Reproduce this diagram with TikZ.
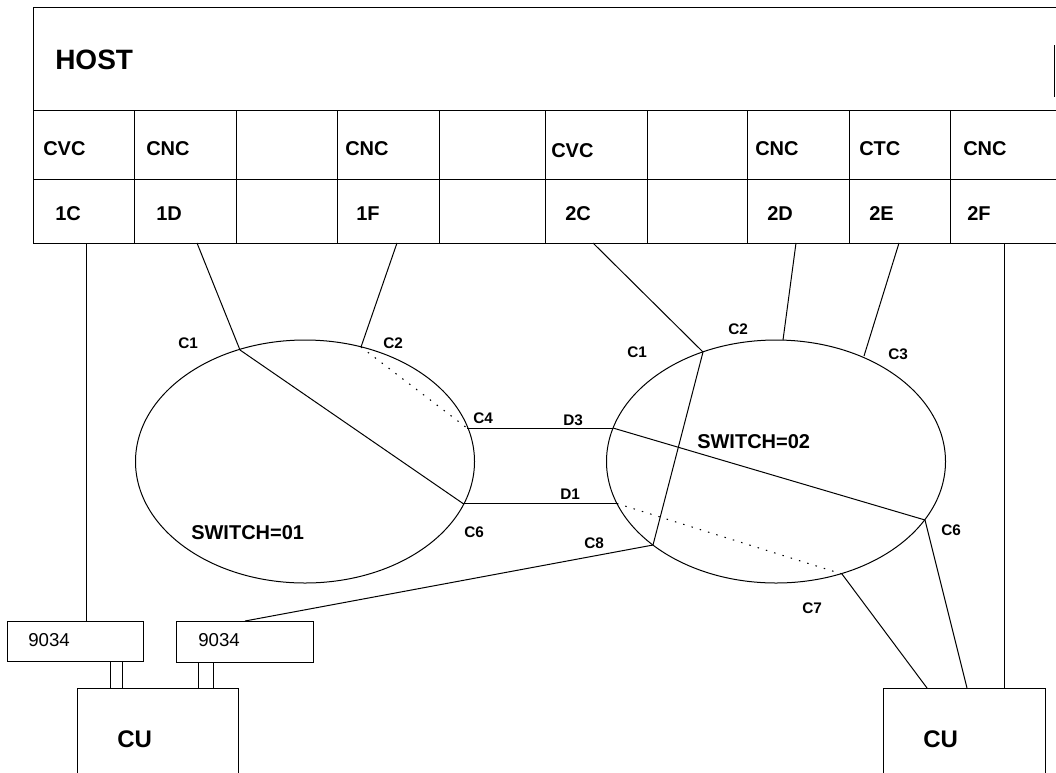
\documentclass[tikz,border=0pt]{standalone}
\usepackage{fontspec}
\setmainfont{Liberation Sans}
\usetikzlibrary{shapes.geometric}
\begin{document}
\begin{tikzpicture}[x=0.75pt,y=-0.75pt,
  wire/.style={line width=0.75pt,black},
  dotwire/.style={line width=0.8pt,black,dash pattern=on 1.1pt off 5.4pt},
  hosttxt/.style={inner sep=0pt,anchor=base west,font=\bfseries\fontsize{21}{24}\selectfont},
  celltxt/.style={inner sep=0pt,anchor=base west,font=\bfseries\fontsize{15}{18}\selectfont},
  porttxt/.style={inner sep=0pt,anchor=base west,font=\bfseries\fontsize{11.5}{13}\selectfont},
  swtxt/.style={inner sep=0pt,anchor=base west,font=\bfseries\fontsize{15}{18}\selectfont},
  boxtxt/.style={inner sep=0pt,anchor=base west,font=\fontsize{14}{16}\selectfont},
  cutxt/.style={inner sep=0pt,anchor=base west,font=\bfseries\fontsize{18}{21}\selectfont},
  switch/.style={draw,wire,ellipse,inner sep=0pt,outer sep=0pt,
    minimum width=254.25pt,minimum height=182.25pt},
  conv/.style={draw,wire,rectangle,inner sep=0pt,outer sep=0pt},
  cubox/.style={draw,wire,rectangle,inner sep=0pt,outer sep=0pt,
    minimum width=120.75pt,minimum height=84pt}]
\useasboundingbox (0,0) rectangle (1056,772);

% ---- host channel table ----
\draw[wire] (1056,7) -- (33,7) -- (33,243) -- (1056,243);
\draw[wire] (33,110) -- (1056,110);
\draw[wire] (33,179) -- (1056,179);
\draw[wire] (1054.5,45) -- (1054.5,97);
\foreach \cx in {134,236,337,439,545,647,747,849,950}
  \draw[wire] (\cx,110) -- (\cx,243);

\node[hosttxt] (host) at (55,69) {HOST};
\node[celltxt] (t1C) at (43,155) {CVC};
\node[celltxt] (t1D) at (146,155) {CNC};
\node[celltxt] (t1F) at (345,155) {CNC};
\node[celltxt] (t2C) at (551,157) {CVC};
\node[celltxt] (t2D) at (755,155) {CNC};
\node[celltxt] (t2E) at (859,155) {CTC};
\node[celltxt] (t2F) at (963,155) {CNC};
\node[celltxt] (n1C) at (55,220) {1C};
\node[celltxt] (n1D) at (156,220) {1D};
\node[celltxt] (n1F) at (356,220) {1F};
\node[celltxt] (n2C) at (565,220) {2C};
\node[celltxt] (n2D) at (767,220) {2D};
\node[celltxt] (n2E) at (869,220) {2E};
\node[celltxt] (n2F) at (967,220) {2F};

% channel attachment points on the lower edge of the host
\coordinate (p1C) at (86,243);
\coordinate (p1D) at (197,243);
\coordinate (p1F) at (397,243);
\coordinate (p2C) at (593,243);
\coordinate (p2D) at (796,243);
\coordinate (p2E) at (899,243);
\coordinate (p2F) at (1004,243);

% ---- switches ----
\node[switch] (sw1) at (305,461.5) {};
\node[switch] (sw2) at (776,461.5) {};
\node[swtxt] (sw1t) at (191,539) {SWITCH=01};
\node[swtxt] (sw2t) at (697,448) {SWITCH=02};

% port positions on switch 01
\coordinate (s1c1) at (240,350);
\coordinate (s1c2) at (361,347);
\coordinate (s1c4) at (467,428);
\coordinate (s1c6) at (463,503.5);
% port positions on switch 02
\coordinate (s2c1) at (703,352);
\coordinate (s2c2) at (783,340);
\coordinate (s2c3) at (864,356);
\coordinate (s2d3) at (613,428);
\coordinate (s2d1) at (617,503.5);
\coordinate (s2c8) at (653,545);
\coordinate (s2c6) at (925,520);
\coordinate (s2c7) at (842,574);

\node[porttxt] (l1c1) at (178,348) {C1};
\node[porttxt] (l1c2) at (383,348) {C2};
\node[porttxt] (l1c4) at (473,423) {C4};
\node[porttxt] (l1c6) at (464,537) {C6};
\node[porttxt] (l2d3) at (563,425) {D3};
\node[porttxt] (l2d1) at (560,499) {D1};
\node[porttxt] (l2c8) at (584,548) {C8};
\node[porttxt] (l2c1) at (627,357) {C1};
\node[porttxt] (l2c2) at (728,334) {C2};
\node[porttxt] (l2c3) at (888,359) {C3};
\node[porttxt] (l2c6) at (941,535) {C6};
\node[porttxt] (l2c7) at (802,613) {C7};

% ---- 9034 converters and control units ----
\node[conv,minimum width=102pt,minimum height=30pt] (ma) at (75,641) {};
\node[conv,minimum width=102.75pt,minimum height=30.75pt] (mb) at (244.5,641.5) {};
\node[boxtxt] (mat) at (28,646) {9034};
\node[boxtxt] (mbt) at (198,646) {9034};

% control units run past the lower edge of the page
\node[cubox] (cuA) at (157.5,744) {};
\node[cubox,minimum width=121.5pt] (cuB) at (964,744) {};
\node[cutxt] (cuAt) at (117,747) {CU};
\node[cutxt] (cuBt) at (923,747) {CU};

\coordinate (ka1) at (110,0);
\coordinate (ka2) at (122,0);
\coordinate (kb1) at (198,0);
\coordinate (kb2) at (213,0);
\coordinate (kc8) at (245,0);
\coordinate (kr7) at (927,0);
\coordinate (kr6) at (967,0);

% ---- links ----
\draw[wire] (p1C) -- (ma.north -| p1C);
\draw[wire] (p1D) -- (s1c1);
\draw[wire] (p1F) -- (s1c2);
\draw[wire] (p2C) -- (s2c1);
\draw[wire] (p2D) -- (s2c2);
\draw[wire] (p2E) -- (s2c3);
\draw[wire] (p2F) -- (cuB.north -| p2F);

% static connections inside the switches
\draw[wire] (s1c1) -- (s1c6);
\draw[dotwire] (s1c2) -- (s1c4);
\draw[wire] (s2c1) -- (s2c8);
\draw[wire] (s2d3) -- (s2c6);
\draw[dotwire] (s2d1) -- (s2c7);

% inter-switch links
\draw[wire] (s1c4) -- (s2d3);
\draw[wire] (s1c6) -- (s2d1);

% to converters and control units
\draw[wire] (s2c8) -- (mb.north -| kc8);
\draw[wire] (s2c7) -- (cuB.north -| kr7);
\draw[wire] (s2c6) -- (cuB.north -| kr6);
\draw[wire] (ma.south -| ka1) -- (cuA.north -| ka1);
\draw[wire] (ma.south -| ka2) -- (cuA.north -| ka2);
\draw[wire] (mb.south -| kb1) -- (cuA.north -| kb1);
\draw[wire] (mb.south -| kb2) -- (cuA.north -| kb2);
\end{tikzpicture}
\end{document}
